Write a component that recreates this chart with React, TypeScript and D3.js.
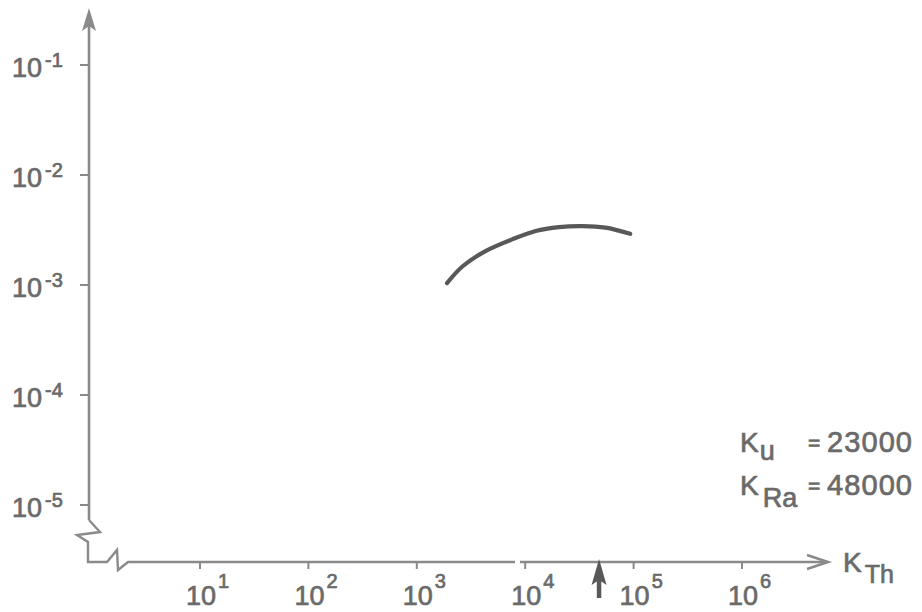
import React from "react";
import * as d3 from "d3";

// ---- data ----
const xTickExponents = [1, 2, 3, 4, 5, 6];
const yTickExponents = [-1, -2, -3, -4, -5];
const curveX = [1900, 2650, 4300, 7600, 12500, 20500, 33600, 55000, 93000];
const curveY = [1.04e-3, 1.48e-3, 2.03e-3, 2.6e-3, 3.1e-3, 3.36e-3, 3.43e-3, 3.32e-3, 2.92e-3];
const annotationLabels = ["u", "Ra"];
const annotationValues = ["23000", "48000"];
const markedValue = 48000; // K_Ra marked by the arrow on the x axis

const W = 922;
const H = 612;

const axisColor = "#8a8a8a";
const textColor = "#6a6a6a";
const curveColor = "#585858";
const tickFont = "'Liberation Sans Narrow', 'Liberation Sans', Arial, sans-serif";
const labelFont = "'Liberation Sans', Arial, sans-serif";

export default function App() {
  const x = d3.scaleLog().domain([10, 1e6]).range([200, 742]);
  const y = d3.scaleLog().domain([1e-5, 1e-1]).range([505, 65]);

  const axisY = 562;
  const axisX = 89;

  const points: [number, number][] = curveX.map((v, i) => [v, curveY[i]]);
  const line = d3
    .line<[number, number]>()
    .x((d) => x(d[0]))
    .y((d) => y(d[1]))
    .curve(d3.curveCatmullRom.alpha(0.5));

  const mx = x(markedValue);
  const textStroke = { stroke: textColor, strokeWidth: 0.7 };

  return (
    <svg width={W} height={H} style={{ display: "block", position: "absolute", left: 0, top: 0 }}>
      <rect width={W} height={H} fill="#ffffff" />
      {/* Y axis */}
      <line x1={axisX} y1={20} x2={axisX} y2={520} stroke={axisColor} strokeWidth={2.6} />
      <path d={`M${axisX},8 L${axisX + 7},31 L${axisX},26 L${axisX - 7},31 Z`} fill={axisColor} />
      {/* axis break */}
      <path
        d={`M${axisX},520 L100,532 L77,535 L88,542 L88,${axisY} L107,${axisY} L117,550 L118,570 L128,${axisY} L515,${axisY}`}
        fill="none"
        stroke={axisColor}
        strokeWidth={2.4}
        strokeLinejoin="miter"
      />
      <line x1={520} y1={axisY} x2={826} y2={axisY} stroke={axisColor} strokeWidth={2.6} />
      <path d={`M807,555 L828,${axisY} L807,569`} fill="none" stroke={axisColor} strokeWidth={2.6} />

      {/* Y ticks and labels */}
      {yTickExponents.map((e) => {
        const yy = y(Math.pow(10, e));
        return (
          <g key={e}>
            <line x1={80} y1={yy} x2={axisX} y2={yy} stroke={axisColor} strokeWidth={2} />
            <text x={12} y={yy + 12} fill={textColor} fontFamily={tickFont} fontSize={27} {...textStroke}>
              10
              <tspan dy={-10} fontSize={20} dx={3}>{`-${Math.abs(e)}`}</tspan>
            </text>
          </g>
        );
      })}

      {/* X ticks and labels */}
      {xTickExponents.map((e) => {
        const xx = x(Math.pow(10, e));
        return (
          <g key={e}>
            <line x1={xx} y1={axisY} x2={xx} y2={axisY + 7} stroke={axisColor} strokeWidth={2} />
            <text x={xx - 14} y={605} fill={textColor} fontFamily={tickFont} fontSize={27} {...textStroke}>
              10
              <tspan dy={-17} fontSize={20} dx={2}>{`${e}`}</tspan>
            </text>
          </g>
        );
      })}

      {/* X axis label */}
      <text x={843} y={572} fill={textColor} fontFamily={labelFont} fontSize={28} {...textStroke}>
        K
        <tspan dx={3} dy={11} fontSize={25}>Th</tspan>
      </text>

      {/* marker arrow */}
      <line x1={mx} y1={598} x2={mx} y2={575} stroke={curveColor} strokeWidth={4.5} />
      <path d={`M${mx},559 L${mx + 7.5},585 L${mx},580 L${mx - 7.5},585 Z`} fill={curveColor} />

      {/* curve */}
      <path d={line(points) || ""} fill="none" stroke={curveColor} strokeWidth={4.2} strokeLinecap="round" />

      {/* annotations */}
      {annotationLabels.map((lab, i) => {
        const base = 452 + i * 43;
        return (
          <g key={lab}>
            <text x={740} y={base} fill={textColor} fontFamily={labelFont} fontSize={28} {...textStroke}>
              K
              <tspan dx={i === 0 ? 1 : 4} dy={i === 0 ? 8 : 12} fontSize={27}>{lab}</tspan>
            </text>
            <text x={808} y={base - 2} fill={textColor} fontFamily={labelFont} fontSize={21} {...textStroke}>=</text>
            <text
              x={827}
              y={base}
              fill={textColor}
              fontFamily={labelFont}
              fontSize={29}
              textLength={85}
              lengthAdjust="spacing"
              {...textStroke}
            >
              {annotationValues[i]}
            </text>
          </g>
        );
      })}
    </svg>
  );
}
